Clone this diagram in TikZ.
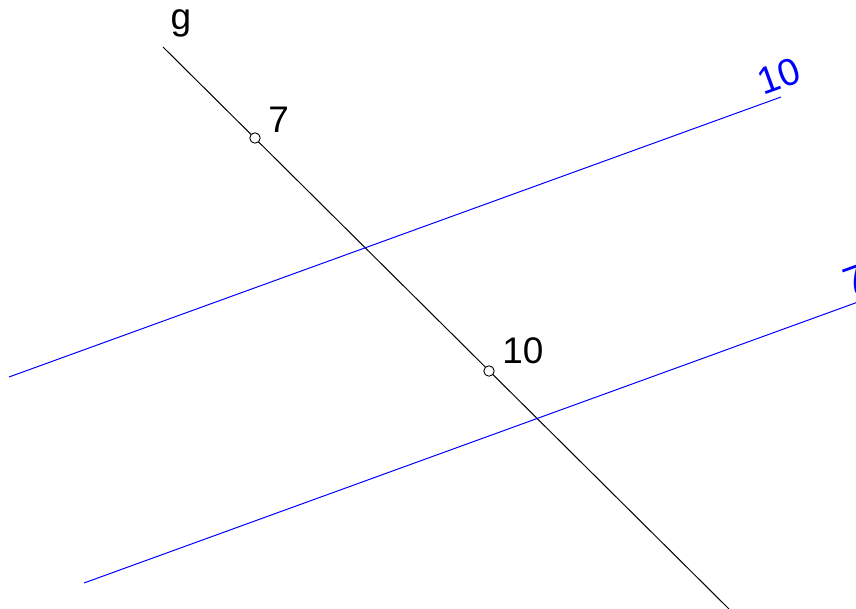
\documentclass[tikz,border=0pt]{standalone}
\usepackage{fontspec}
\setmainfont{Liberation Sans}
\usepackage{tikz}
\usetikzlibrary{positioning}

\begin{document}
\begin{tikzpicture}[
        x=0.5pt, y=-0.5pt,
        gline/.style={draw=black, line width=0.5pt},
        bline/.style={draw=blue, line width=0.5pt},
        pt/.style={circle, draw=black, fill=white, line width=0.45pt, inner sep=0pt, minimum size=5.2pt},
        lbl/.style={font=\fontsize{18.5}{22}\selectfont, inner sep=0pt, anchor=base west},
        blbl/.style={font=\fontsize{19}{22}\selectfont, text=blue, inner sep=0pt, rotate=20}
    ]
        \clip (0,0) rectangle (856,609);

        % --- Gerade g ---
        \coordinate (gstart) at (163,47);
        \coordinate (gend)   at (729,609);
        \draw[gline] (gstart) -- (gend);
        \node[lbl, anchor=base] (glbl) at (181,30) {g};

        % --- Parallelen ---
        \coordinate (a1) at (9,377);
        \coordinate (a2) at (781,97);
        \draw[bline] (a1) -- (a2);
        \node[blbl] (alen) at (779,76) {10};

        \coordinate (b1) at (84,583);
        \coordinate (b2) at (858,302);
        \draw[bline] (b1) -- (b2);
        \node[blbl] (blen) at (855,280) {7};

        % --- Punkte auf g ---
        \node[pt] (p7)  at (255,138) {};
        \node[lbl] (l7) at (268,133) {7};
        \node[pt] (p10) at (489,371) {};
        \node[lbl] (l10) at (502,363) {10};
    \end{tikzpicture}
\end{document}
